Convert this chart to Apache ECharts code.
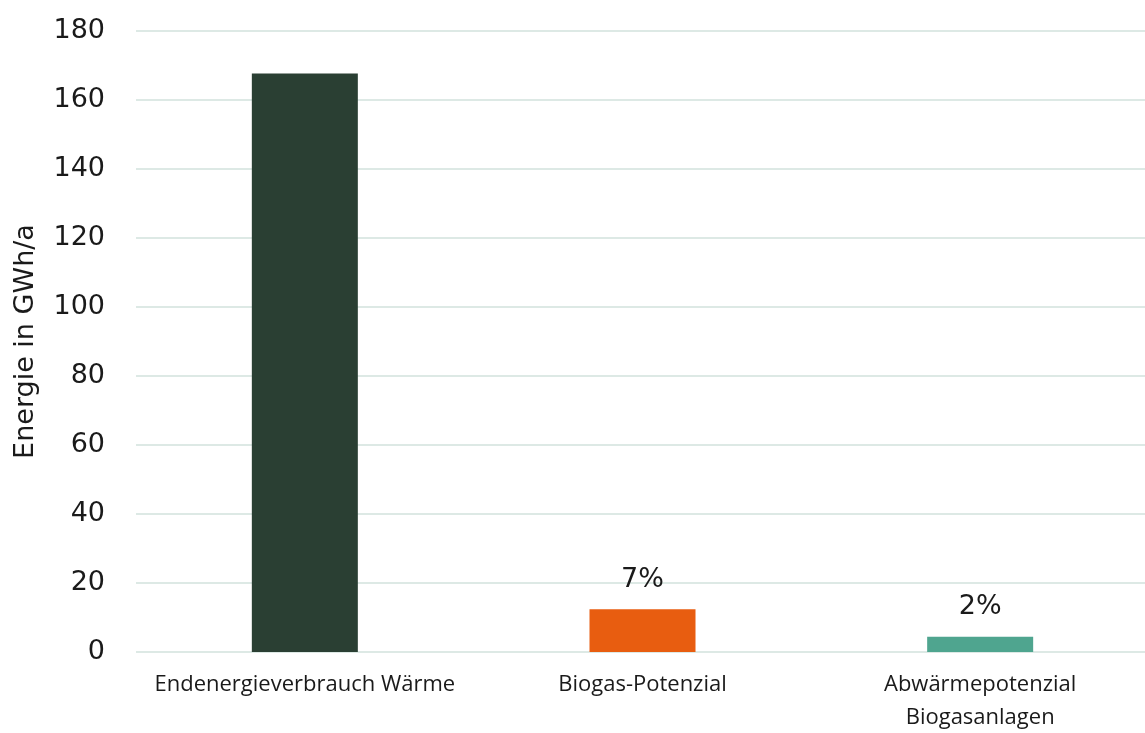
<!DOCTYPE html>
<html lang="de">
<head>
    <meta charset="UTF-8">
    <title>Energie in GWh/a</title>
    <style>
        html, body {
            margin: 0;
            padding: 0;
            background: #ffffff;
        }
        #main {
            width: 1145px;
            height: 733px;
        }
    </style>
    <script type="text/javascript" src="https://cdn.jsdelivr.net/npm/echarts@6/dist/echarts.min.js"></script>
</head>
<body>
<div id="main"></div>
<script type="text/javascript">
    var categories = ['Endenergieverbrauch Wärme', 'Biogas-Potenzial', 'Abwärmepotenzial\nBiogasanlagen'];
    var values = [167.7, 12.4, 4.4];
    var shares = ['', '7%', '2%'];
    var colors = ['#2a3f33', '#e85d10', '#4fa58f'];
    var yTicks = [0, 20, 40, 60, 80, 100, 120, 140, 160, 180];

    var chart = echarts.init(document.getElementById('main'));

    var barData = values.map(function (v, i) {
        return {
            value: v,
            itemStyle: { color: colors[i] },
            label: { show: shares[i] !== '', formatter: shares[i] }
        };
    });

    var option = {
        animation: false,
        grid: {
            left: 136,
            right: -4,
            top: 31,
            bottom: 81,
            containLabel: false,
            outerBoundsMode: 'none'
        },
        xAxis: {
            type: 'category',
            data: categories,
            axisLine: { show: false },
            axisTick: { show: false },
            axisLabel: {
                interval: 0,
                hideOverlap: false,
                margin: 16,
                fontFamily: '"Open Sans", Lato, sans-serif',
                fontSize: 22,
                lineHeight: 33,
                color: '#1a1a1a'
            }
        },
        yAxis: {
            type: 'value',
            min: yTicks[0],
            max: yTicks[yTicks.length - 1],
            interval: 20,
            name: 'Energie in GWh/a',
            nameLocation: 'middle',
            nameGap: 97,
            nameTextStyle: {
                fontFamily: '"DejaVu Sans", sans-serif',
                fontSize: 27,
                color: '#1a1a1a'
            },
            axisLine: { show: false },
            axisTick: { show: false },
            axisLabel: {
                margin: 31,
                fontFamily: '"DejaVu Sans", sans-serif',
                fontSize: 27,
                color: '#1a1a1a'
            },
            splitLine: {
                lineStyle: { color: '#dde9e5', width: 2 }
            }
        },
        series: [{
            type: 'bar',
            data: barData,
            barWidth: 106,
            label: {
                position: 'top',
                distance: 16,
                fontFamily: '"DejaVu Sans", sans-serif',
                fontSize: 27,
                color: '#1a1a1a'
            }
        }]
    };
    chart.setOption(option);
</script>
</body>
</html>
